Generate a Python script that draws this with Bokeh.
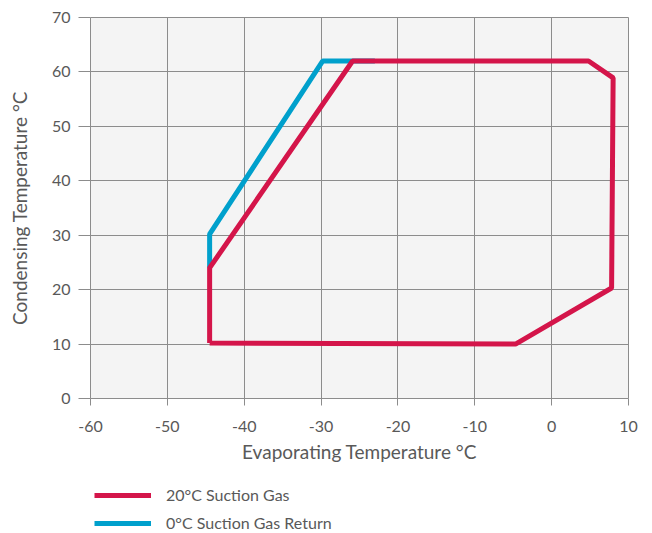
from bokeh.plotting import figure
from bokeh.layouts import column
from bokeh.models import Legend, LegendItem, FixedTicker, PrintfTickFormatter, Range1d
from bokeh.embed import file_html
from bokeh.resources import INLINE

# Data
red_x = [-44.5, -4.7, 7.8, 8.0, 4.8, -25.9, -44.5, -44.5]
red_y = [10.2, 10.0, 20.3, 58.9, 62.0, 62.0, 24.0, 10.2]
blue_x = [-44.5, -44.5, -29.8, -23.0]
blue_y = [24.0, 30.2, 62.0, 62.0]
red_label = "20°C Suction Gas"
blue_label = "0°C Suction Gas Return"
x_ticks = [-60, -50, -40, -30, -20, -10, 0, 10]
y_ticks = [0, 10, 20, 30, 40, 50, 60, 70]

RED = "#d4154a"
BLUE = "#00a0cc"
TXT = "#595959"
GRID = "#8c8c8c"
FONT = "Lato"

p = figure(width=648, height=468, x_range=(-60, 10), y_range=(0, 70),
           output_backend="svg", toolbar_location=None,
           min_border_left=90, min_border_right=20, min_border_top=17, min_border_bottom=70)

p.background_fill_color = "#f4f4f4"
p.border_fill_color = "white"
p.outline_line_color = GRID
p.outline_line_width = 1

p.line(blue_x, blue_y, line_color=BLUE, line_width=5)
p.line(red_x, red_y, line_color=RED, line_width=5)

for ax in (p.xaxis[0], p.yaxis[0]):
    ax.axis_line_color = None
    ax.major_tick_line_color = GRID
    ax.major_tick_in = 0
    ax.minor_tick_line_color = None
    ax.major_label_text_color = TXT
    ax.major_label_text_font = FONT
    ax.major_label_text_font_size = "16px"
    ax.axis_label_text_color = TXT
    ax.axis_label_text_font = FONT
    ax.axis_label_text_font_size = "19px"
    ax.axis_label_text_font_style = "normal"
    ax.formatter = PrintfTickFormatter(format="%d")

p.xaxis.ticker = FixedTicker(ticks=x_ticks)
p.yaxis.ticker = FixedTicker(ticks=y_ticks)
p.xaxis.axis_label = "Evaporating Temperature °C"
p.yaxis.axis_label = "Condensing Temperature °C"
p.xaxis.major_tick_out = 7
p.xaxis.major_label_standoff = 15
p.xaxis.axis_label_standoff = 5
p.yaxis.major_tick_out = 12
p.yaxis.major_label_standoff = 8
p.yaxis.axis_label_standoff = 18

p.xgrid.ticker = FixedTicker(ticks=x_ticks)
p.ygrid.ticker = FixedTicker(ticks=y_ticks)
p.grid.grid_line_color = GRID
p.grid.grid_line_width = 1

# Legend panel (dummy renderers lie outside the visible range)
p2 = figure(width=648, height=64, x_range=Range1d(0, 1), y_range=Range1d(0, 1),
            output_backend="svg", toolbar_location=None,
            min_border_left=0, min_border_right=0, min_border_top=0, min_border_bottom=0)
p2.axis.visible = False
p2.grid.visible = False
p2.outline_line_color = None
p2.background_fill_color = "white"
p2.border_fill_color = "white"
rl = p2.line([5, 6], [5, 6], line_color=RED, line_width=5)
bl = p2.line([5, 6], [5, 6], line_color=BLUE, line_width=5)

legend = Legend(items=[LegendItem(label=red_label, renderers=[rl]),
                       LegendItem(label=blue_label, renderers=[bl])],
                location=(4, 0), orientation="vertical")
legend.background_fill_alpha = 0
legend.border_line_alpha = 0
legend.label_text_font = FONT
legend.label_text_font_size = "16px"
legend.label_text_color = TXT
legend.glyph_width = 57
legend.glyph_height = 16
legend.label_height = 16
legend.label_standoff = 15
legend.spacing = 9
legend.padding = 0
legend.margin = 0
p2.add_layout(legend, "center")

layout = column(p, p2, spacing=0)
open("out.html", "w").write(file_html(layout, INLINE))
